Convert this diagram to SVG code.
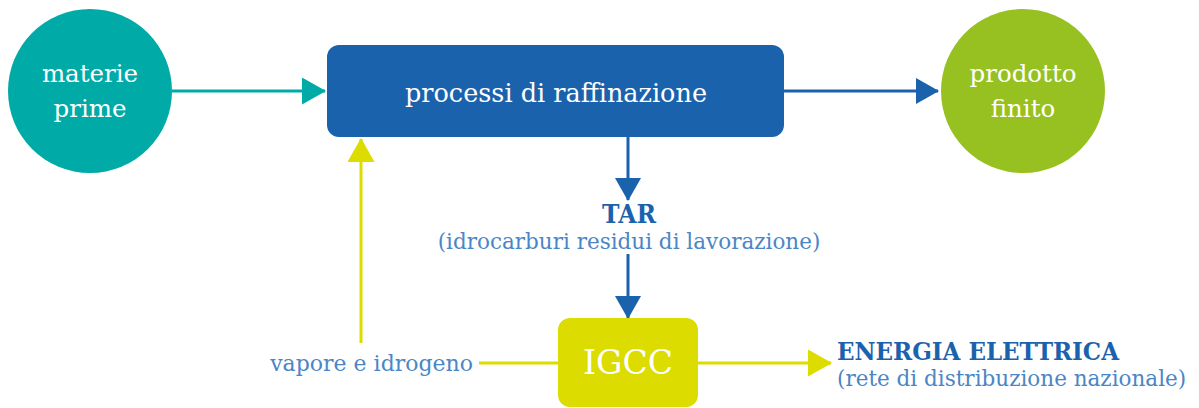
<svg xmlns="http://www.w3.org/2000/svg" width="1199" height="408" viewBox="0 0 1199 408">
<style>
  text { font-family: "DejaVu Serif", "Liberation Serif", serif; }
  .w { fill: #ffffff; text-anchor: middle; }
  .lbl { fill: #4a86c6; }
  .hd { fill: #1b62ad; font-weight: bold; }
  .teal { stroke: #00aaa7; stroke-width: 3; fill: none; }
  .blue { stroke: #1b62ad; stroke-width: 3; fill: none; }
  .yel { stroke: #dcdc00; stroke-width: 3; fill: none; }
</style>
<defs>
  <marker id="mTeal" markerWidth="24" markerHeight="27" refX="23" refY="13.5" orient="auto" markerUnits="userSpaceOnUse">
    <path d="M0,0 L24,13.5 L0,27 Z" fill="#00aaa7"/>
  </marker>
  <marker id="mBlue" markerWidth="23" markerHeight="26" refX="22" refY="13" orient="auto" markerUnits="userSpaceOnUse">
    <path d="M0,0 L23,13 L0,26 Z" fill="#1b62ad"/>
  </marker>
  <marker id="mYel" markerWidth="24" markerHeight="27" refX="23" refY="13.5" orient="auto" markerUnits="userSpaceOnUse">
    <path d="M0,0 L24,13.5 L0,27 Z" fill="#dcdc00"/>
  </marker>
</defs>
<rect width="1199" height="408" fill="#ffffff"/>
<g id="connectors">
  <line class="teal" x1="172" y1="91" x2="325" y2="91" marker-end="url(#mTeal)"/>
  <line class="blue" x1="784" y1="91" x2="938" y2="91" marker-end="url(#mBlue)"/>
  <line class="blue" x1="628" y1="137" x2="628" y2="200" marker-end="url(#mBlue)"/>
  <line class="blue" x1="628" y1="254" x2="628" y2="318" marker-end="url(#mBlue)"/>
  <line class="yel" x1="479" y1="363" x2="558" y2="363"/>
  <line class="yel" x1="361" y1="343" x2="361" y2="139" marker-end="url(#mYel)"/>
  <line class="yel" x1="698" y1="363" x2="831" y2="363" marker-end="url(#mYel)"/>
</g>
<g id="materie">
  <circle cx="90" cy="91" r="82" fill="#00aaa7"/>
  <text class="w" x="90" y="82" font-size="24.5">materie</text>
  <text class="w" x="90" y="117" font-size="24.5">prime</text>
</g>
<g id="processi">
  <rect x="327" y="45" width="457" height="92" rx="12" fill="#1b62ad"/>
  <text class="w" x="556" y="102" font-size="25.5">processi di raffinazione</text>
</g>
<g id="prodotto">
  <circle cx="1023" cy="91" r="82" fill="#97c121"/>
  <text class="w" x="1023" y="82" font-size="24.5">prodotto</text>
  <text class="w" x="1023" y="117" font-size="24.5">finito</text>
</g>
<g id="tar">
  <text class="hd" x="629" y="223" font-size="26" text-anchor="middle" textLength="54" lengthAdjust="spacingAndGlyphs">TAR</text>
  <text class="lbl" x="629" y="249" font-size="21.5" text-anchor="middle">(idrocarburi residui di lavorazione)</text>
</g>
<g id="igcc">
  <rect x="558" y="318" width="140" height="89" rx="12" fill="#dcdc00"/>
  <text class="w" x="628" y="374" font-size="33">IGCC</text>
</g>
<g id="vapore">
  <text class="lbl" x="473" y="371" font-size="22" text-anchor="end">vapore e idrogeno</text>
</g>
<g id="energia">
  <text class="hd" x="837" y="360" font-size="24.5" textLength="282" lengthAdjust="spacingAndGlyphs">ENERGIA ELETTRICA</text>
  <text class="lbl" x="837" y="386" font-size="21.5">(rete di distribuzione nazionale)</text>
</g>
</svg>
